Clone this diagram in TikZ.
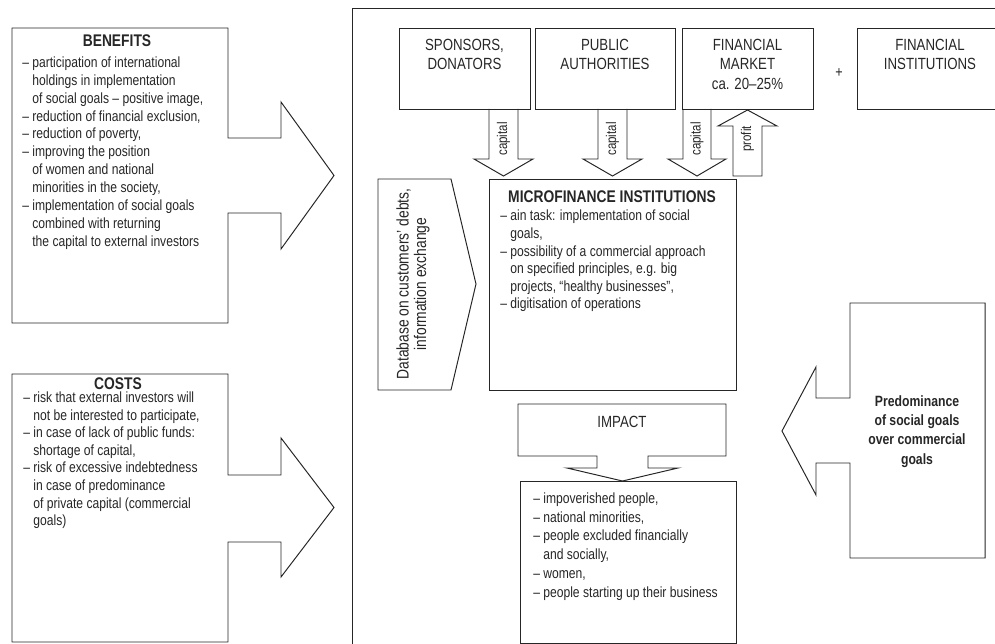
\documentclass[tikz,border=0pt]{standalone}
\usepackage{fontspec}
\setmainfont{Liberation Sans}[FakeStretch=0.82]
\definecolor{ink}{gray}{0.15}
\newcommand*\dsh{--\ }
\newcommand*\ind{\hphantom{--\ }}
\tikzset{
  shp/.style={draw=ink,line width=0.7pt,line join=miter},
  bodytxt/.style={inner sep=0pt,anchor=north west,align=left,text=ink,font=\fontsize{10.5}{12.7}\selectfont},
  headtxt/.style={inner sep=0pt,anchor=base,text=ink,font=\fontsize{12}{14}\selectfont\bfseries},
  boxtxt/.style={inner sep=0pt,anchor=north,align=center,text=ink,font=\fontsize{11.5}{13.7}\selectfont},
  arrowtxt/.style={inner sep=0pt,rotate=90,text=ink,font=\fontsize{10}{12}\selectfont},
}

\begin{document}
\begin{tikzpicture}[x=0.025cm,y=-0.025cm] %---- pixel grid, y down
\useasboundingbox (0,0) rectangle (995,644);
\clip (0,0) rectangle (995,644);

\draw[shp] (352,8) rectangle (1010,660); % --- big frame

% ---- benefits box with arrow
\draw[shp] (12,28) -- (228,28) -- (228,138) -- (281,138) -- (281,102) -- (334,175.5)
  -- (281,249) -- (281,213) -- (228,213) -- (228,323) -- (12,323) -- cycle;
\node[headtxt] (benefits-hd) at (117,46.7) {BENEFITS};
\node[bodytxt] (benefits-txt) at (22,56.5) {\dsh participation of international\\
  \ind holdings in implementation\\
  \ind of social goals -- positive image,\\
  \dsh reduction of financial exclusion,\\
  \dsh reduction of poverty,\\
  \dsh improving the position\\
  \ind of women and national\\
  \ind minorities in the society,\\
  \dsh implementation of social goals\\
  \ind combined with returning\\
  \ind the capital to external investors};

% ---- costs box with arrow
\draw[shp] (12,374) -- (228,374) -- (228,475) -- (281,475) -- (281,438) -- (334,507.5)
  -- (281,577) -- (281,542) -- (228,542) -- (228,642) -- (12,642) -- cycle;
\node[headtxt] (costs-hd) at (118,389.4) {COSTS};
\node[bodytxt,font=\fontsize{10.5}{12.5}\selectfont] (costs-txt) at (23,391.6) {\dsh risk that external investors will\\
  \ind not be interested to participate,\\
  \dsh in case of lack of public funds:\\
  \ind shortage of capital,\\
  \dsh risk of excessive indebtedness\\
  \ind in case of predominance\\
  \ind of private capital (commercial\\
  \ind goals)};

% ---- sources of capital
\draw[shp] (399,28) rectangle (530,109);
\draw[shp] (535,28) rectangle (675,109);
\draw[shp] (682,28) rectangle (813,109);
\draw[shp] (857,28) rectangle (1003,109);
\node[boxtxt] (sponsors) at (464.5,39) {SPONSORS,\\DONATORS};
\node[boxtxt] (public) at (605,39) {PUBLIC\\AUTHORITIES};
\node[boxtxt] (market) at (747.5,39) {FINANCIAL\\MARKET\\ca. 20--25\%};
\node[boxtxt] (institutions) at (930,39) {FINANCIAL\\INSTITUTIONS};
\node[boxtxt,anchor=center,font=\fontsize{11}{13}\selectfont] (plus) at (839,73) {+};

% ---- capital and profit arrows
\foreach \xa/\xb/\nm in {489/518/capsp, 598/627/cappa, 683/711/capfm} {
  \draw[shp] (\xa,109) -- (\xa,159) -- (\xa-15,159) -- ({(\xa+\xb)/2},176)
    -- (\xb+15,159) -- (\xb,159) -- (\xb,109);
  \node[arrowtxt] (\nm) at ({(\xa+\xb)/2},139) {capital};
}
\draw[shp] (733,176) -- (733,126) -- (718,126) -- (747.5,110) -- (777,126)
  -- (762,126) -- (762,176) -- cycle;
\node[arrowtxt] (profit) at (747.5,139) {profit};

% ---- database arrow
\draw[shp] (378,179) -- (451,179) -- (476,284) -- (451,390) -- (378,390) -- cycle;
\node[arrowtxt,align=center,font=\fontsize{12}{12.5}\selectfont] (database) at (413,284)
  {Database on customers’ debts,\\information exchange};

% ---- microfinance institutions
\draw[shp] (489,179) rectangle (736,390);
\node[headtxt] (mfi-hd) at (612,202) {MICROFINANCE INSTITUTIONS};
\node[bodytxt,font=\fontsize{10.5}{12.5}\selectfont] (mfi-txt) at (500,210) {\dsh ain task: implementation of social\\
  \ind goals,\\
  \dsh possibility of a commercial approach\\
  \ind on specified principles, e.g. big\\
  \ind projects, “healthy businesses”,\\
  \dsh digitisation of operations};

% ---- impact
\draw[shp] (518,404) -- (726,404) -- (726,456) -- (648,456) -- (648,468) -- (678,468)
  -- (622.5,481) -- (567,468) -- (597,468) -- (597,456) -- (518,456) -- cycle;
\node[boxtxt,anchor=base] (impact) at (622,427) {IMPACT};
\draw[shp] (520,481) rectangle (736,643);
\node[bodytxt,font=\fontsize{10.5}{13.3}\selectfont] (groups) at (533,492.6) {\dsh impoverished people,\\
  \dsh national minorities,\\
  \dsh people excluded financially\\
  \ind and socially,\\
  \dsh women,\\
  \dsh people starting up their business};

% ---- social goals arrow
\draw[shp] (850,303) -- (985,303) -- (985,558) -- (850,558) -- (850,463) -- (816,463)
  -- (816,495) -- (782,431) -- (816,367) -- (816,398) -- (850,398) -- cycle;
\node[boxtxt,font=\fontsize{10.6}{13.8}\selectfont\bfseries] (goals) at (917,395)
  {Predominance\\of social goals\\over commercial\\goals};
\end{tikzpicture}
\end{document}
